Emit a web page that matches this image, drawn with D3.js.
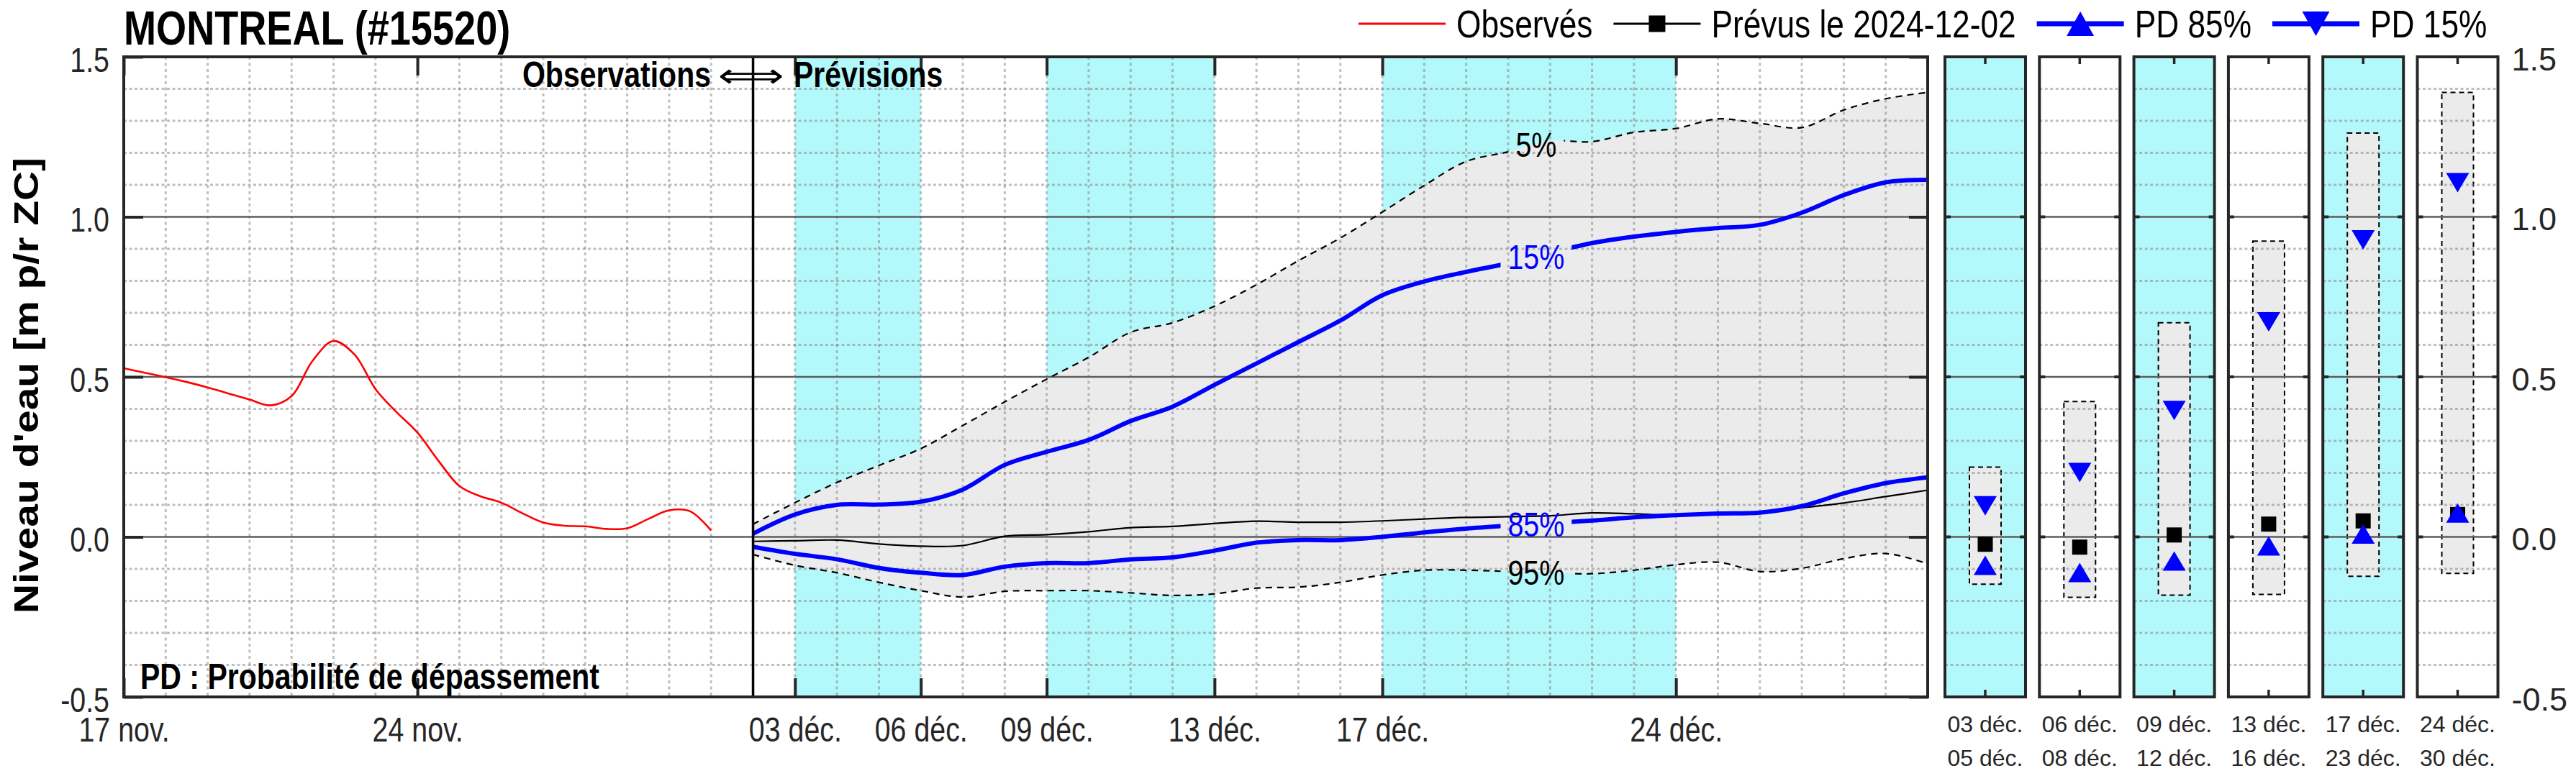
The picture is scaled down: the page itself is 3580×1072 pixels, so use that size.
<!DOCTYPE html>
<html><head><meta charset="utf-8">
<script src="https://cdn.jsdelivr.net/npm/d3@7/dist/d3.min.js"></script>
<style>
body{margin:0;background:#fff;}
svg text{font-family:"Liberation Sans",Arial,sans-serif;}
</style></head><body>
<svg id="chart" width="3580" height="1072"></svg>
<script>
// ================= DATA =================
const chartTitle = "MONTREAL (#15520)";
const yAxisTitle = "Niveau d'eau [m p/r ZC]";
const obsLabelText = "Observations";
const fcLabelText = "Prévisions";
const pdNote = "PD : Probabilité de dépassement";

// observed water level, every 12 h from 2024-11-17 00:00
const obsStart = "2024-11-17T00:00:00Z";
const obsStepHours = 12;
const obsValues = [0.527, 0.513, 0.499, 0.484, 0.467, 0.448, 0.429, 0.411, 0.440, 0.550,
  0.612, 0.570, 0.462, 0.390, 0.326, 0.238, 0.159, 0.127, 0.107, 0.074,
  0.045, 0.035, 0.033, 0.025, 0.027, 0.056, 0.083, 0.080, 0.020];

// forecast issued 2024-12-02, daily from 2024-12-02 00:00
const forecastIssue = "2024-12-02T00:00:00Z";
const fcStepHours = 24;
const fcP5 = [0.040, 0.107, 0.170, 0.223, 0.276, 0.348, 0.422, 0.493, 0.561, 0.639,
  0.669, 0.721, 0.788, 0.863, 0.934, 1.015, 1.098, 1.173, 1.203, 1.237,
  1.235, 1.264, 1.276, 1.306, 1.292, 1.279, 1.334, 1.369, 1.389];
const fcP15 = [0.010, 0.070, 0.100, 0.101, 0.110, 0.148, 0.225, 0.266, 0.303, 0.362,
  0.407, 0.475, 0.542, 0.609, 0.676, 0.755, 0.798, 0.828, 0.855, 0.888,
  0.918, 0.938, 0.953, 0.965, 0.975, 1.013, 1.068, 1.108, 1.116];
const fcMedian = [-0.014, -0.012, -0.010, -0.022, -0.029, -0.027, 0.002, 0.007, 0.016, 0.029,
  0.033, 0.042, 0.049, 0.046, 0.046, 0.050, 0.056, 0.061, 0.063, 0.066,
  0.075, 0.072, 0.068, 0.071, 0.076, 0.091, 0.106, 0.126, 0.146];
const fcP85 = [-0.031, -0.053, -0.070, -0.097, -0.112, -0.119, -0.093, -0.082, -0.082, -0.070,
  -0.064, -0.043, -0.018, -0.010, -0.010, 0.000, 0.014, 0.026, 0.035, 0.043,
  0.051, 0.061, 0.068, 0.073, 0.076, 0.096, 0.136, 0.168, 0.186];
const fcP95 = [-0.055, -0.089, -0.112, -0.142, -0.168, -0.188, -0.170, -0.168, -0.168, -0.175,
  -0.183, -0.178, -0.160, -0.157, -0.142, -0.119, -0.104, -0.104, -0.108, -0.112,
  -0.115, -0.104, -0.087, -0.079, -0.108, -0.098, -0.068, -0.052, -0.084];

const curveLabelNames = ["5%", "15%", "85%", "95%"];
const curveLabelDate = "2024-12-20T16:00:00Z";

// x axis
const xStart = "2024-11-17T00:00:00Z", xEnd = "2024-12-30T00:00:00Z";
const xTickDates = ["2024-11-17", "2024-11-24", "2024-12-03", "2024-12-06", "2024-12-09", "2024-12-13", "2024-12-17", "2024-12-24"];
const xTickLabels = ["17 nov.", "24 nov.", "03 déc.", "06 déc.", "09 déc.", "13 déc.", "17 déc.", "24 déc."];
const yTicks = [-0.5, 0, 0.5, 1.0, 1.5];
const yTickLabels = ["-0.5", "0.0", "0.5", "1.0", "1.5"];

// summary periods (side panels)
const periodStarts = ["2024-12-03", "2024-12-06", "2024-12-09", "2024-12-13", "2024-12-17", "2024-12-24"];
const periodEnds = ["2024-12-06", "2024-12-09", "2024-12-13", "2024-12-17", "2024-12-24", "2024-12-31"];
const periodLabelsTop = ["03 déc.", "06 déc.", "09 déc.", "13 déc.", "17 déc.", "24 déc."];
const periodLabelsBottom = ["05 déc.", "08 déc.", "12 déc.", "16 déc.", "23 déc.", "30 déc."];
const periodShaded = [true, false, true, false, true, false];
const periodMax5 = [0.218, 0.423, 0.669, 0.924, 1.262, 1.389];
const periodMin95 = [-0.148, -0.189, -0.182, -0.180, -0.123, -0.114];
const periodP15 = [0.097, 0.201, 0.395, 0.672, 0.928, 1.107];
const periodMedian = [-0.023, -0.032, 0.006, 0.040, 0.050, 0.070];
const periodP85 = [-0.089, -0.111, -0.075, -0.028, 0.009, 0.075];

const legendLabels = ["Observés", "Prévus le 2024-12-02", "PD 85%", "PD 15%"];

// ================= LAYOUT / STYLE =================
const plot = {left: 172, right: 2679, top: 79, bottom: 969};
const panelRange = [2703, 3471.5];
const CYAN = "#b3f8fb", GRAYFILL = "#ebebeb", AX = "#262626", BLUE = "#0000ff", RED = "#ff0000";
const HOUR = 3600e3;
const S = 0.82; // horizontal condensation of the main-figure lettering

const svg = d3.select("#chart");
const defs = svg.append("defs");
const x = d3.scaleUtc().domain([new Date(xStart), new Date(xEnd)]).range([plot.left, plot.right]);
const y = d3.scaleLinear().domain([-0.5, 1.5]).range([plot.bottom, plot.top]);

const gBg = svg.append("g"), gFill = svg.append("g"), gGrid = svg.append("g"),
      gLines = svg.append("g"), gLabels = svg.append("g"), gAxes = svg.append("g"),
      gPanels = svg.append("g"), gText = svg.append("g");

// condensed text helper
function ntext(parent, px, py, size, str, o = {}) {
  const t = parent.append("text")
    .attr("transform", `translate(${px},${py}) scale(${S},1)`)
    .attr("font-size", size).text(str);
  if (o.anchor) t.attr("text-anchor", o.anchor);
  if (o.bold) t.attr("font-weight", "bold");
  if (o.fill) t.attr("fill", o.fill);
  if (o.dy) t.attr("dy", o.dy);
  return t;
}

// background + shaded periods
gBg.append("rect").attr("x", plot.left).attr("y", plot.top).attr("width", plot.right - plot.left)
  .attr("height", plot.bottom - plot.top).attr("fill", "#fff");
periodStarts.forEach((s, i) => {
  if (!periodShaded[i]) return;
  const x0 = x(new Date(s + "T00:00:00Z")), x1 = Math.min(x(new Date(periodEnds[i] + "T00:00:00Z")), plot.right);
  gBg.append("rect").attr("x", x0).attr("y", plot.top).attr("width", x1 - x0)
    .attr("height", plot.bottom - plot.top).attr("fill", CYAN);
});

// data objects
const obsData = obsValues.map((v, i) => ({t: new Date(+new Date(obsStart) + i * obsStepHours * HOUR), v}));
const fcData = fcP5.map((v, i) => ({
  t: new Date(+new Date(forecastIssue) + i * fcStepHours * HOUR),
  p5: fcP5[i], p15: fcP15[i], med: fcMedian[i], p85: fcP85[i], p95: fcP95[i]
}));
const curve = d3.curveCatmullRom.alpha(0.5);

// fill between 5% and 95%
gFill.append("path").datum(fcData)
  .attr("d", d3.area().x(d => x(d.t)).y0(d => y(d.p95)).y1(d => y(d.p5)).curve(curve))
  .attr("fill", GRAYFILL);

// grid
const minorY = d3.range(-4, 15).map(k => k / 10).filter(v => Math.abs(v * 2 - Math.round(v * 2)) > 1e-6);
const majorY = [0, 0.5, 1.0];
d3.utcDay.range(d3.utcDay.offset(new Date(xStart), 1), new Date(xEnd)).forEach(d => {
  gGrid.append("line").attr("x1", x(d)).attr("x2", x(d)).attr("y1", plot.top).attr("y2", plot.bottom)
    .attr("stroke", "#808080").attr("stroke-opacity", 0.5).attr("stroke-width", 3).attr("stroke-dasharray", "4,4.5");
});
minorY.forEach(v => {
  gGrid.append("line").attr("x1", plot.left).attr("x2", plot.right).attr("y1", y(v)).attr("y2", y(v))
    .attr("stroke", "#808080").attr("stroke-opacity", 0.5).attr("stroke-width", 3).attr("stroke-dasharray", "4,3.5");
});
majorY.forEach(v => {
  gGrid.append("line").attr("x1", plot.left).attr("x2", plot.right).attr("y1", y(v)).attr("y2", y(v))
    .attr("stroke", "#5e5e5e").attr("stroke-width", 2.6);
});

// curve labels (measured first to build gaps in their lines)
const lblT = +new Date(curveLabelDate);
const fIdx = (lblT - +new Date(forecastIssue)) / (fcStepHours * HOUR);
function interp(arr) { const i = Math.floor(fIdx), f = fIdx - i; return arr[i] * (1 - f) + arr[i + 1] * f; }
const seriesDefs = [
  {key: "p5", arr: fcP5, name: curveLabelNames[0], color: "#000", width: 2.2, dash: "9,7"},
  {key: "p15", arr: fcP15, name: curveLabelNames[1], color: BLUE, width: 6, dash: null},
  {key: "p85", arr: fcP85, name: curveLabelNames[2], color: BLUE, width: 6, dash: null},
  {key: "p95", arr: fcP95, name: curveLabelNames[3], color: "#000", width: 2.2, dash: "9,7"}
];
const lx = x(new Date(lblT));
seriesDefs.forEach((s, i) => {
  const ly = y(interp(s.arr));
  const t = ntext(gLabels, lx, ly, 48, s.name, {anchor: "middle", fill: s.color, dy: "0.36em"});
  const w = t.node().getComputedTextLength() * S;
  const bx = lx - w / 2 - 10, by = ly - 22, bw = w + 20, bh = 44;
  defs.append("clipPath").attr("id", "clip" + i).append("path").attr("clip-rule", "evenodd")
    .attr("d", `M${plot.left},${plot.top}H${plot.right}V${plot.bottom}H${plot.left}Z M${bx},${by}h${bw}v${bh}h${-bw}Z`);
});

// lines
gLines.append("path").datum(obsData)
  .attr("d", d3.line().x(d => x(d.t)).y(d => y(d.v)).curve(curve))
  .attr("fill", "none").attr("stroke", RED).attr("stroke-width", 2.6);
gLines.append("path").datum(fcData)
  .attr("d", d3.line().x(d => x(d.t)).y(d => y(d.med)).curve(curve))
  .attr("fill", "none").attr("stroke", "#000").attr("stroke-width", 2.2);
seriesDefs.forEach((s, i) => {
  gLines.append("path").datum(fcData)
    .attr("d", d3.line().x(d => x(d.t)).y(d => y(d[s.key])).curve(curve))
    .attr("fill", "none").attr("stroke", s.color).attr("stroke-width", s.width)
    .attr("stroke-dasharray", s.dash).attr("clip-path", `url(#clip${i})`);
});

// observation / forecast separator
gAxes.append("line").attr("x1", x(new Date(forecastIssue))).attr("x2", x(new Date(forecastIssue)))
  .attr("y1", plot.top).attr("y2", plot.bottom).attr("stroke", "#000").attr("stroke-width", 3.5);

// axes
function styleAxis(g, fs, condensed, dy) {
  g.select(".domain").remove();
  g.attr("font-family", null).attr("font-size", null);
  g.selectAll(".tick line").attr("stroke", AX).attr("stroke-width", 4);
  g.selectAll(".tick text").attr("fill", AX).attr("font-size", fs);
  if (dy) g.selectAll(".tick text").attr("dy", dy);
  if (condensed) g.selectAll(".tick text").each(function () {
    const t = d3.select(this);
    t.attr("x", (+t.attr("x") || 0) / S).attr("transform", `scale(${S},1)`);
  });
}
const xTickD = xTickDates.map(s => new Date(s + "T00:00:00Z"));
gAxes.append("g").attr("transform", `translate(0,${plot.bottom})`)
  .call(d3.axisBottom(x).tickValues(xTickD).tickFormat((d, i) => xTickLabels[i]).tickSize(-26).tickPadding(28))
  .call(g => styleAxis(g, 48, true));
gAxes.append("g").attr("transform", `translate(0,${plot.top})`)
  .call(d3.axisTop(x).tickValues(xTickD).tickFormat("").tickSize(-26))
  .call(g => styleAxis(g, 48, false));
gAxes.append("g").attr("transform", `translate(${plot.left},0)`)
  .call(d3.axisLeft(y).tickValues(yTicks).tickFormat((d, i) => yTickLabels[i]).tickSize(-27).tickPadding(20))
  .call(g => styleAxis(g, 48, true, "0.42em"));
gAxes.append("g").attr("transform", `translate(${plot.right},0)`)
  .call(d3.axisRight(y).tickValues(yTicks).tickFormat("").tickSize(-26))
  .call(g => styleAxis(g, 48, false));
gAxes.append("rect").attr("x", plot.left).attr("y", plot.top).attr("width", plot.right - plot.left)
  .attr("height", plot.bottom - plot.top).attr("fill", "none").attr("stroke", AX).attr("stroke-width", 4);

// ================= SIDE PANELS =================
const band = d3.scaleBand().domain(d3.range(periodStarts.length)).range(panelRange).paddingInner(0.147);
function triPath(cx, cy, w, h, up) {
  return up ? `M${cx},${cy - h / 2}L${cx + w / 2},${cy + h / 2}L${cx - w / 2},${cy + h / 2}Z`
            : `M${cx},${cy + h / 2}L${cx + w / 2},${cy - h / 2}L${cx - w / 2},${cy - h / 2}Z`;
}
periodStarts.forEach((s, i) => {
  const x0 = band(i), bw = band.bandwidth(), cx = x0 + bw / 2;
  const g = gPanels.append("g");
  g.append("rect").attr("x", x0).attr("y", plot.top).attr("width", bw).attr("height", plot.bottom - plot.top)
    .attr("fill", periodShaded[i] ? CYAN : "#fff");
  g.append("rect").attr("x", cx - 22).attr("width", 44).attr("y", y(periodMax5[i]))
    .attr("height", y(periodMin95[i]) - y(periodMax5[i]))
    .attr("fill", GRAYFILL).attr("stroke", "#000").attr("stroke-width", 2).attr("stroke-dasharray", "7,5");
  minorY.forEach(v => {
    g.append("line").attr("x1", x0).attr("x2", x0 + bw).attr("y1", y(v)).attr("y2", y(v))
      .attr("stroke", "#808080").attr("stroke-opacity", 0.5).attr("stroke-width", 3).attr("stroke-dasharray", "4,3.5");
  });
  majorY.forEach(v => {
    g.append("line").attr("x1", x0).attr("x2", x0 + bw).attr("y1", y(v)).attr("y2", y(v))
      .attr("stroke", "#5e5e5e").attr("stroke-width", 2.6);
    [[x0, x0 + 8], [x0 + bw - 8, x0 + bw]].forEach(([a, b]) =>
      g.append("line").attr("x1", a).attr("x2", b).attr("y1", y(v)).attr("y2", y(v)).attr("stroke", AX).attr("stroke-width", 4));
  });
  g.append("rect").attr("x", cx - 10.5).attr("y", y(periodMedian[i]) - 10.5).attr("width", 21).attr("height", 21).attr("fill", "#000");
  g.append("path").attr("d", triPath(cx, y(periodP85[i]), 32, 27, true)).attr("fill", BLUE);
  g.append("path").attr("d", triPath(cx, y(periodP15[i]), 32, 27, false)).attr("fill", BLUE);
  g.append("line").attr("x1", cx).attr("x2", cx).attr("y1", plot.top).attr("y2", plot.top + 10).attr("stroke", AX).attr("stroke-width", 3.5);
  g.append("line").attr("x1", cx).attr("x2", cx).attr("y1", plot.bottom).attr("y2", plot.bottom - 10).attr("stroke", AX).attr("stroke-width", 3.5);
  g.append("rect").attr("x", x0).attr("y", plot.top).attr("width", bw).attr("height", plot.bottom - plot.top)
    .attr("fill", "none").attr("stroke", AX).attr("stroke-width", 4);
  g.append("text").attr("x", cx).attr("y", 1018).attr("text-anchor", "middle").attr("font-size", 32).attr("fill", AX).text(periodLabelsTop[i]);
  g.append("text").attr("x", cx).attr("y", 1065).attr("text-anchor", "middle").attr("font-size", 32).attr("fill", AX).text(periodLabelsBottom[i]);
});
gPanels.append("g").attr("transform", `translate(${panelRange[1]},0)`)
  .call(d3.axisRight(y).tickValues(yTicks).tickFormat((d, i) => yTickLabels[i]).tickSize(0).tickPadding(19))
  .call(g => styleAxis(g, 45, false, "0.4em"));

// ================= TEXTS =================
ntext(gText, 172, 62, 66, chartTitle, {bold: true});
gText.append("text").attr("transform", `translate(53,536) scale(0.84,1) rotate(-90)`).attr("text-anchor", "middle")
  .attr("font-size", 57).attr("font-weight", "bold").text(yAxisTitle);
ntext(gText, 988, 121, 50, obsLabelText, {bold: true, anchor: "end"});
gText.append("text").attr("x", 998).attr("y", 121).attr("font-size", 46)
  .attr("textLength", 92).attr("lengthAdjust", "spacingAndGlyphs")
  .style("font-family", "'DejaVu Sans'").text("\u27FA");
ntext(gText, 1103, 121, 50, fcLabelText, {bold: true});
ntext(gText, 195, 958, 50, pdNote, {bold: true});

// legend
let lxPos = 1888;
const legY = 33;
legendLabels.forEach((lab, i) => {
  const g = gText.append("g");
  const color = i === 0 ? RED : i === 1 ? "#000" : BLUE;
  const lw = i < 2 ? 3 : 7;
  g.append("line").attr("x1", lxPos).attr("x2", lxPos + 121).attr("y1", legY).attr("y2", legY).attr("stroke", color).attr("stroke-width", lw);
  const mx = lxPos + 60.5;
  if (i === 1) g.append("rect").attr("x", mx - 11.5).attr("y", legY - 11.5).attr("width", 23).attr("height", 23).attr("fill", "#000");
  if (i === 2) g.append("path").attr("d", triPath(mx, legY, 38, 34, true)).attr("fill", BLUE);
  if (i === 3) g.append("path").attr("d", triPath(mx, legY, 38, 34, false)).attr("fill", BLUE);
  const t = ntext(g, lxPos + 136, legY, 54, lab, {dy: "0.35em"});
  lxPos = lxPos + 136 + t.node().getComputedTextLength() * S + 29;
});
</script>
</body></html>
